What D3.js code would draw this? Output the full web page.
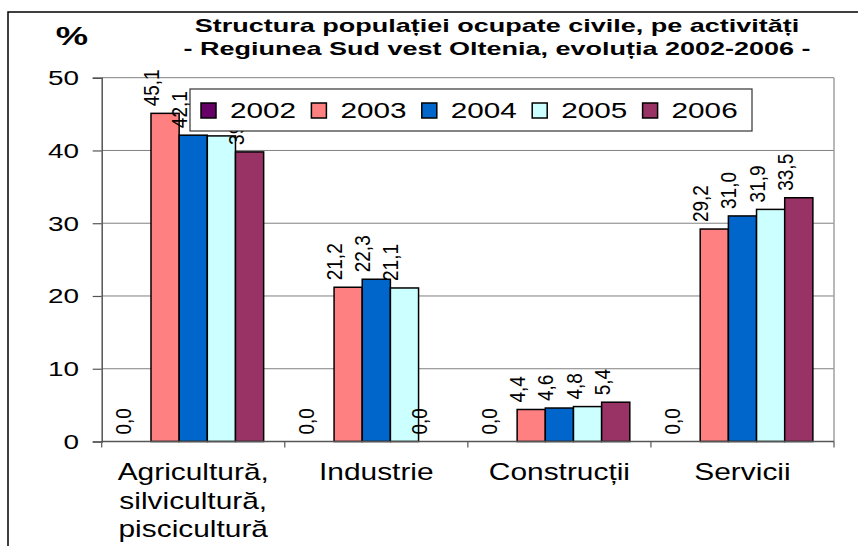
<!DOCTYPE html>
<html>
<head>
<meta charset="utf-8">
<script src="https://cdn.jsdelivr.net/npm/d3@7"></script>
<style>
  body { margin: 0; background: #fff; }
  text { font-family: "Liberation Sans", Arial, sans-serif; fill: #000; }
</style>
</head>
<body>
<div id="chart-container"></div>
<script>
// Data
const categories = ["Agricultură, silvicultură, piscicultură", "Industrie", "Construcții", "Servicii"];
const categoryLines = [["Agricultură,", "silvicultură,", "piscicultură"], ["Industrie"], ["Construcții"], ["Servicii"]];
const years = ["2002", "2003", "2004", "2005", "2006"];
const values2002 = [0.0, 0.0, 0.0, 0.0];
const values2003 = [45.1, 21.2, 4.4, 29.2];
const values2004 = [42.1, 22.3, 4.6, 31.0];
const values2005 = [42.0, 21.1, 4.8, 31.9];
const values2006 = [39.8, 0.0, 5.4, 33.5];
const seriesValues = [values2002, values2003, values2004, values2005, values2006];
const colors = ["#660066", "#ff8080", "#0066cc", "#ccffff", "#993366"];
const yTicks = [0, 10, 20, 30, 40, 50];

// Dimensions
const W = 858, H = 546;
const plot = { left: 101.7, right: 834, top: 77.7, bottom: 441.5 };

const svg = d3.select("#chart-container")
  .append("svg")
  .attr("width", W)
  .attr("height", H);

// Scales
const x = d3.scaleBand().domain(categories).range([plot.left, plot.right]);
const xs = d3.scaleBand().domain(years).range([0, x.bandwidth()]).paddingOuter(0.75);
const y = d3.scaleLinear().domain([0, 50]).range([plot.bottom, plot.top]);

// Stretched text helper (the original picture is wider than tall)
function addText(g, tx, ty, sx, str) {
  return g.append("text")
    .attr("transform", `translate(${tx},${ty}) scale(${sx},1)`)
    .text(str);
}

// Outer chart frame (left and top edges visible)
svg.append("path")
  .attr("d", `M8,${H} L8,12 L${W},12`)
  .attr("fill", "none")
  .attr("stroke", "#000")
  .attr("stroke-width", 1.5);

// Gridlines
svg.append("g")
  .selectAll("line")
  .data(yTicks.filter(d => d > 0))
  .join("line")
  .attr("x1", plot.left)
  .attr("x2", plot.right)
  .attr("y1", d => y(d))
  .attr("y2", d => y(d))
  .attr("stroke", "#808080")
  .attr("stroke-width", 1);

// Plot area right border
svg.append("line")
  .attr("x1", plot.right).attr("x2", plot.right)
  .attr("y1", plot.top).attr("y2", plot.bottom)
  .attr("stroke", "#a0a0a0")
  .attr("stroke-width", 1.5);

// Y axis
const yAxis = svg.append("g")
  .attr("transform", `translate(${plot.left},0)`)
  .call(d3.axisLeft(y).tickValues(yTicks).tickSize(9).tickFormat(""));
yAxis.select(".domain").attr("stroke", "#555").attr("stroke-width", 1.5);
yAxis.selectAll(".tick line").attr("stroke", "#555").attr("stroke-width", 1.2);

const yLabels = svg.append("g");
yTicks.forEach(d => {
  addText(yLabels, 79, y(d) + 7.5, 1.33, d3.format("d")(d))
    .attr("text-anchor", "end")
    .style("font-size", "21px");
});

// Bars
const groups = svg.append("g")
  .selectAll("g")
  .data(categories)
  .join("g")
  .attr("transform", d => `translate(${x(d)},0)`);

groups.each(function(cat, ci) {
  const g = d3.select(this);
  years.forEach((yr, si) => {
    const v = seriesValues[si][ci];
    if (v > 0) {
      g.append("rect")
        .attr("x", xs(yr))
        .attr("y", y(v))
        .attr("width", xs.bandwidth())
        .attr("height", y(0) - y(v))
        .attr("fill", colors[si])
        .attr("stroke", "#000")
        .attr("stroke-width", 1.5);
    }
  });
});

// X axis
svg.append("line")
  .attr("x1", plot.left).attr("x2", plot.right)
  .attr("y1", plot.bottom).attr("y2", plot.bottom)
  .attr("stroke", "#555")
  .attr("stroke-width", 1.5);
const xTickPos = categories.map(c => x(c)).concat([plot.right]);
svg.append("g")
  .selectAll("line")
  .data(xTickPos)
  .join("line")
  .attr("x1", d => d).attr("x2", d => d)
  .attr("y1", plot.bottom).attr("y2", plot.bottom + 6)
  .attr("stroke", "#555")
  .attr("stroke-width", 1.2);

// Category labels
const catLabels = svg.append("g");
categories.forEach((c, ci) => {
  categoryLines[ci].forEach((line, li) => {
    addText(catLabels, x(c) + x.bandwidth() / 2, 480 + li * 28.5, 1.3, line)
      .attr("text-anchor", "middle")
      .style("font-size", "23px");
  });
});

// Value labels (rotated)
const fmt = v => d3.format(".1f")(v).replace(".", ",");
const valueLabels = svg.append("g");
categories.forEach((c, ci) => {
  years.forEach((yr, si) => {
    const v = seriesValues[si][ci];
    const cx = x(c) + xs(yr) + xs.bandwidth() / 2;
    valueLabels.append("text")
      .attr("transform", `translate(${cx - 6},${y(v) - 7}) rotate(-90) scale(1,1.2)`)
      .style("font-size", "19px")
      .text(fmt(v));
  });
});

// Legend
const legend = svg.append("g");
legend.append("rect")
  .attr("x", 190).attr("y", 89)
  .attr("width", 562).attr("height", 42)
  .attr("fill", "#fff")
  .attr("stroke", "#333")
  .attr("stroke-width", 1.2);
years.forEach((yr, i) => {
  const lx = 201 + i * 110.4;
  legend.append("rect")
    .attr("x", lx).attr("y", 103)
    .attr("width", 15).attr("height", 15)
    .attr("fill", colors[i])
    .attr("stroke", "#000")
    .attr("stroke-width", 1.5);
  addText(legend, lx + 29, 118, 1.35, yr)
    .style("font-size", "22px");
});

// Titles
addText(svg, 72, 45, 1.4, "%")
  .attr("text-anchor", "middle")
  .style("font-size", "26px")
  .style("font-weight", "bold");
addText(svg, 497, 32, 1.5, "Structura populației ocupate civile, pe activități")
  .attr("text-anchor", "middle")
  .style("font-size", "18px")
  .style("font-weight", "bold");
addText(svg, 497, 55, 1.5, "- Regiunea Sud vest Oltenia, evoluția 2002-2006 -")
  .attr("text-anchor", "middle")
  .style("font-size", "18px")
  .style("font-weight", "bold");
</script>
</body>
</html>
